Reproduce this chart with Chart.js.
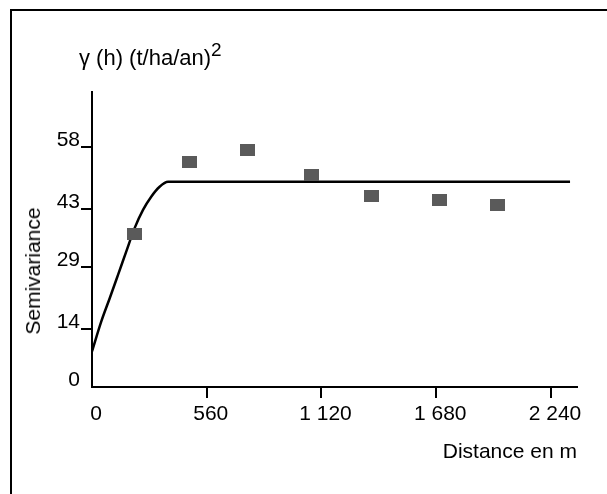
<!DOCTYPE html>
<html>
<head>
<meta charset="utf-8">
<script src="https://cdn.jsdelivr.net/npm/chart.js@4.4.0/dist/chart.umd.min.js"></script>
<style>
  html, body { margin: 0; padding: 0; background: #fff; overflow: hidden; }
  #wrap { position: relative; width: 607px; height: 494px; }
  #frame { position: absolute; left: 10px; top: 9px; width: 700px; height: 600px; border: 2px solid #000; }
  #chart { position: absolute; left: 0; top: 0; }
  .txt { position: absolute; font-family: "Liberation Sans", Arial, sans-serif; color: #000; white-space: nowrap; }
  #unit { left: 79px; top: 47px; font-size: 22px; line-height: 22px; }
  #unit .sup { display: inline-block; font-size: 19px; line-height: 19px; position: relative; top: -9px; }
  #ytitle { left: 33px; top: 271px; font-size: 21px; transform: translate(-50%, -50%) rotate(-90deg); }
</style>
</head>
<body>
<div id="wrap">
  <div id="frame"></div>
  <canvas id="chart" width="607" height="494"></canvas>
  <div class="txt" id="unit">γ (h) (t/ha/an)<span class="sup">2</span></div>
  <div class="txt" id="ytitle">Semivariance</div>
</div>
<script>
const lagDist = [206, 475, 758, 1070, 1363, 1695, 1978];
const semiVar = [36.9, 54.5, 57.2, 51.2, 46.1, 45.1, 43.9];

// modèle ajusté (points relevés le long de la courbe)
const modelDist = [0, 45, 86, 127, 167, 208, 249, 289, 330, 371, 2333];
const modelVar = [8.6, 15.8, 21.4, 27.1, 32.7, 38.4, 42.8, 46.0, 48.4, 49.6, 49.6];

const xTicks = [0, 560, 1120, 1680, 2240];
const xTickLabels = ['0', '560', '1 120', '1 680', '2 240'];
const yTicks = [0, 14, 29, 43, 58];

const FONT = '"Liberation Sans", Arial, sans-serif';

// marqueur rectangulaire gris
const marker = document.createElement('canvas');
marker.width = 15;
marker.height = 12;
const mctx = marker.getContext('2d');
mctx.fillStyle = '#5a5a5a';
mctx.fillRect(0, 0, 15, 12);

const tickColor = (ctx) => (ctx.tick && ctx.tick.value === 0) ? 'rgba(0,0,0,0)' : '#000';

new Chart(document.getElementById('chart'), {
  type: 'scatter',
  data: {
    datasets: [
      {
        label: 'Modèle',
        data: modelDist.map((d, i) => ({ x: d, y: modelVar[i] })),
        showLine: true,
        borderColor: '#000',
        borderWidth: 2.5,
        pointRadius: 0,
        cubicInterpolationMode: 'monotone',
        order: 2
      },
      {
        label: 'Semivariance',
        data: lagDist.map((d, i) => ({ x: d, y: semiVar[i] })),
        pointStyle: marker,
        pointRadius: 8,
        order: 1
      }
    ]
  },
  options: {
    responsive: false,
    animation: false,
    events: [],
    layout: { padding: { left: 0, top: 92, right: 30, bottom: 0 } },
    plugins: { legend: { display: false }, tooltip: { enabled: false } },
    scales: {
      x: {
        type: 'linear',
        min: 0,
        max: 2367,
        afterFit: (s) => { s.height = 107; },
        afterBuildTicks: (s) => { s.ticks = xTicks.map(v => ({ value: v })); },
        border: { display: true, color: '#000', width: 2 },
        grid: { drawOnChartArea: false, drawTicks: true, tickLength: 11, color: tickColor, lineWidth: 2 },
        ticks: {
          autoSkip: false,
          maxRotation: 0,
          padding: 4,
          labelOffset: 4,
          color: '#000',
          font: { family: FONT, size: 21 },
          callback: (v, i) => xTickLabels[i]
        },
        title: {
          display: true,
          text: 'Distance en m',
          align: 'end',
          color: '#000',
          font: { family: FONT, size: 21 },
          padding: { top: 0, bottom: 29 }
        }
      },
      y: {
        type: 'linear',
        min: 0,
        max: 71.3,
        afterFit: (s) => { s.width = 92; },
        afterBuildTicks: (s) => { s.ticks = yTicks.map(v => ({ value: v })); },
        border: { display: true, color: '#000', width: 2 },
        grid: { drawOnChartArea: false, drawTicks: true, tickLength: 11, color: tickColor, lineWidth: 2 },
        ticks: {
          padding: 1,
          labelOffset: -7,
          color: '#000',
          font: { family: FONT, size: 21 }
        }
      }
    }
  }
});
</script>
</body>
</html>
